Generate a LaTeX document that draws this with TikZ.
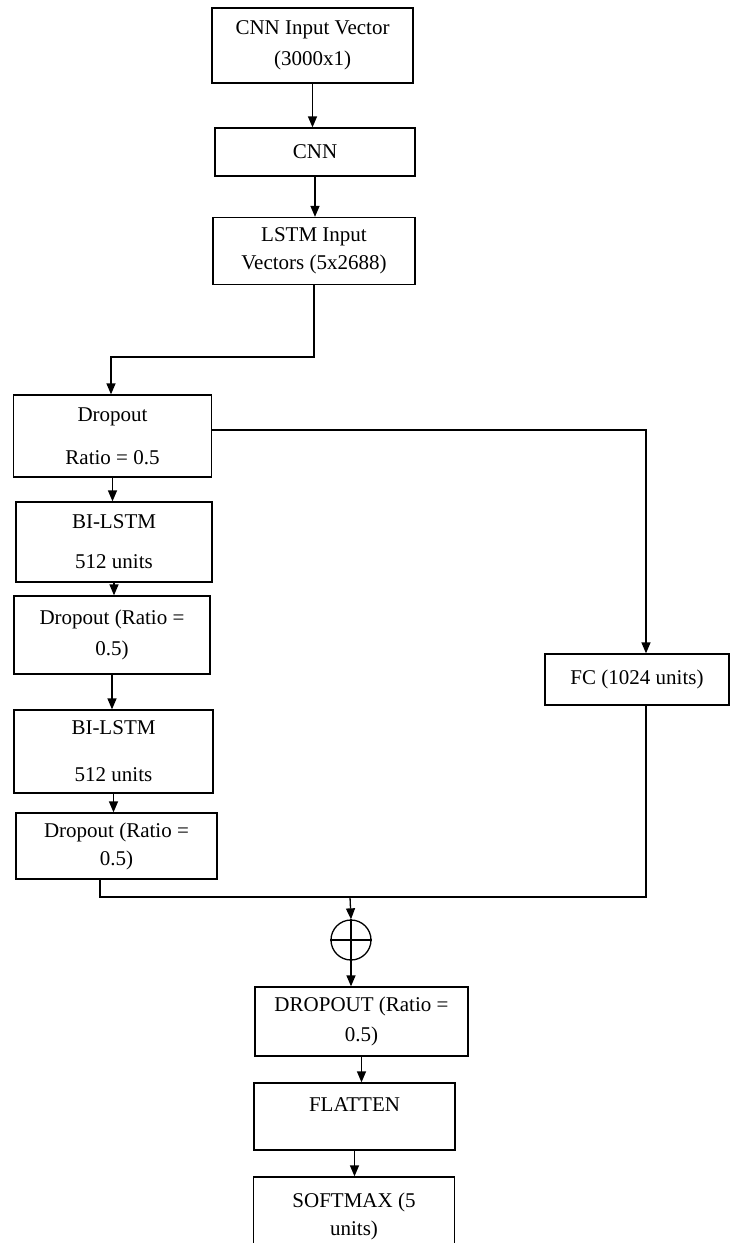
\documentclass[tikz,border=0pt]{standalone}
\usepackage{fontspec}
\setmainfont{Liberation Serif}
\usepackage{tikz}
\usetikzlibrary{arrows.meta}

\begin{document}
\begin{tikzpicture}[x=1pt,y=-1pt,>={Triangle[length=11pt,width=9pt]},line width=1.3pt,
  every node/.style={font=\fontsize{21}{28}\selectfont},
  layerbox/.style={draw,rectangle,align=center,inner sep=1pt}]
\useasboundingbox (0,0) rectangle (731,1243);
\node[layerbox,minimum width=201,minimum height=75] (A) at (312.5,45.5) {CNN Input Vector\\[3pt](3000x1)};
\node[layerbox,minimum width=200,minimum height=48] (B) at (315,152) {CNN};
\node[layerbox,minimum width=202,minimum height=67] (C) at (314,251) {LSTM Input\\Vectors (5x2688)};
\node[layerbox,minimum width=198,minimum height=82] (D) at (112.5,436) {Dropout\\[15pt]Ratio = 0.5};
\node[layerbox,minimum width=196,minimum height=80] (E) at (114,542) {BI-LSTM\\[12pt]512 units};
\node[layerbox,minimum width=196,minimum height=78] (F) at (112,635) {Dropout (Ratio =\\[3pt]0.5)};
\node[layerbox,minimum width=199,minimum height=83] (G) at (113.5,751.5) {BI-LSTM\\[19pt]512 units};
\node[layerbox,minimum width=201,minimum height=66] (H) at (116.5,846) {Dropout (Ratio =\\0.5)};
\node[layerbox,minimum width=184,minimum height=51] (I) at (637,679.5) {FC (1024 units)};
\node[draw,circle,minimum size=40,inner sep=0pt] (J) at (351,940) {};
\node[layerbox,minimum width=213,minimum height=69] (K) at (361.5,1021.5) {DROPOUT (Ratio =\\[2pt]0.5)};
\node[layerbox,minimum width=201,minimum height=67] (L) at (354.5,1116.5) {FLATTEN\\[-5pt]~};
\node[layerbox,minimum width=201,minimum height=78] (M) at (354,1216) {SOFTMAX (5\\units)};
\coordinate (c1) at (111,357);
\coordinate (j1) at (100,897);
\coordinate (j2) at (646,897);
\coordinate (j3) at (350,897);
\draw (J.north) -- (J.south) (J.west) -- (J.east);
\draw[->] (A.south) -- (A.south |- B.north);
\draw[->] (B.south) -- (B.south |- C.north);
\draw[->] (C.south) |- (c1) -- (c1 |- D.north);
\draw[->] (D.south) -- (D.south |- E.north);
\draw[->] ([yshift=6pt]D.east) -| ([xshift=9pt]I.north);
\draw[->] (E.south) -- (E.south |- F.north);
\draw[->] (F.south) -- (F.south |- G.north);
\draw[->] (G.south) -- (G.south |- H.north);
\draw (j1 |- H.south) -- (j1) -- (j2) -- (j2 |- I.south);
\draw[->] (j3) -- (J.north);
\draw[->] (J.south) -- (J.south |- K.north);
\draw[->] (K.south) -- (K.south |- L.north);
\draw[->] (L.south) -- (L.south |- M.north);
\end{tikzpicture}
\end{document}
